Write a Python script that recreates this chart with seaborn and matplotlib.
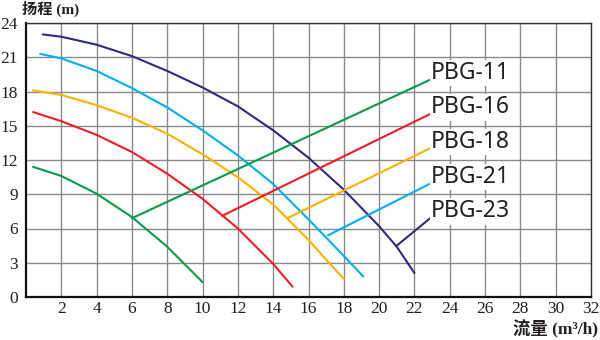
import matplotlib
matplotlib.use("Agg")
import matplotlib.pyplot as plt
import seaborn as sns
import pandas as pd

# ---- data ----
models = ["PBG-11", "PBG-16", "PBG-18", "PBG-21", "PBG-23"]

flow_11 = [0.4, 2, 4, 6, 8, 10]
head_11 = [11.4, 10.6, 9.05, 7.0, 4.4, 1.3]

flow_16 = [0.4, 2, 4, 6, 8, 10, 12, 14, 15.1]
head_16 = [16.2, 15.4, 14.2, 12.7, 10.8, 8.6, 6.0, 2.9, 0.9]

flow_18 = [0.4, 2, 4, 6, 8, 10, 12, 14, 16, 17.1, 18]
head_18 = [18.1, 17.7, 16.8, 15.7, 14.3, 12.5, 10.5, 8.1, 5.0, 3.1, 1.6]

flow_21 = [0.8, 2, 4, 6, 8, 10, 12, 14, 16, 18, 19.1]
head_21 = [21.3, 20.9, 19.8, 18.3, 16.6, 14.6, 12.4, 9.9, 6.8, 3.6, 1.8]

flow_23 = [0.95, 2, 4, 6, 8, 10, 12, 14, 16, 18, 20, 21, 22]
head_23 = [23.0, 22.8, 22.1, 21.1, 19.8, 18.35, 16.7, 14.6, 12.2, 9.4, 6.2, 4.4, 2.1]

# points on each curve where the label leader line attaches
knee_flow = [6.0, 11.1, 14.8, 17.1, 21.0]
knee_head = [6.9, 7.1, 6.9, 5.4, 4.5]

x_ticks = [2, 4, 6, 8, 10, 12, 14, 16, 18, 20, 22, 24, 26, 28, 30, 32]
y_ticks = [0, 3, 6, 9, 12, 15, 18, 21, 24]

colors = ["#0a9a48", "#ee1c23", "#ffb000", "#00aeef", "#2e2a86"]

flows = [flow_11, flow_16, flow_18, flow_21, flow_23]
heads = [head_11, head_16, head_18, head_21, head_23]

frames = []
for m, f, h in zip(models, flows, heads):
    frames.append(pd.DataFrame({"flow": f, "head": h, "model": m}))
df = pd.concat(frames, ignore_index=True)

# ---- plotting ----
sns.set_theme(style="white")
plt.rcParams["font.family"] = ["Liberation Serif", "DejaVu Serif"]

fig = plt.figure(figsize=(6, 3.4), dpi=100)
ax = fig.add_axes([26 / 600, 1 - 297 / 340, 565 / 600, 274 / 340])

sns.lineplot(data=df, x="flow", y="head", hue="model", palette=colors,
             hue_order=models, sort=False, estimator=None, linewidth=1.5,
             legend=False, ax=ax, zorder=3)

ax.set_xlim(0, 32)
ax.set_ylim(0, 24)
ax.set_xticks(x_ticks)
ax.set_yticks(y_ticks)
ax.set_xticklabels([str(t) for t in x_ticks], fontsize=12.5)
ax.set_yticklabels([str(t) for t in y_ticks], fontsize=12.5)
ax.tick_params(axis="x", length=0, pad=3, colors="#231f20")
ax.tick_params(axis="y", length=0, pad=6, colors="#231f20")
ax.grid(True, color="#8a8a8a", linewidth=1.0)
ax.set_axisbelow(True)
ax.set_xlabel("")
ax.set_ylabel("")

for side in ["left", "bottom"]:
    ax.spines[side].set_color("#111111")
    ax.spines[side].set_linewidth(1.6)
for side in ["top", "right"]:
    ax.spines[side].set_color("#333333")
    ax.spines[side].set_linewidth(1.0)

# labels with leader lines
label_x = 22.95
label_ys = [19.6, 16.6, 13.6, 10.5, 7.5]
for m, c, kx, ky, ly in zip(models, colors, knee_flow, knee_head, label_ys):
    ax.annotate(m, xy=(kx, ky), xytext=(label_x, ly), textcoords="data",
                ha="left", va="center", fontsize=16.5, color="#231f20",
                family=["Noto Sans", "DejaVu Sans"],
                bbox=dict(boxstyle="square,pad=0.05", fc="white", ec="none"),
                arrowprops=dict(arrowstyle="-", color=c, lw=1.5,
                                shrinkA=0, shrinkB=0, relpos=(0, 0.25)),
                zorder=4)

mixed = ["Liberation Serif", "Noto Sans CJK SC", "DejaVu Sans"]
fig.text(22 / 600, 1 - 9 / 340, "扬程 (m)", ha="left", va="center",
         fontsize=11, family=mixed, weight="bold", color="#231f20")
fig.text(598 / 600, 1 - 329 / 340, "流量 (m³/h)", ha="right", va="center",
         fontsize=12.5, family=mixed, weight="bold", color="#231f20")

fig.savefig("out.png", dpi=100)
